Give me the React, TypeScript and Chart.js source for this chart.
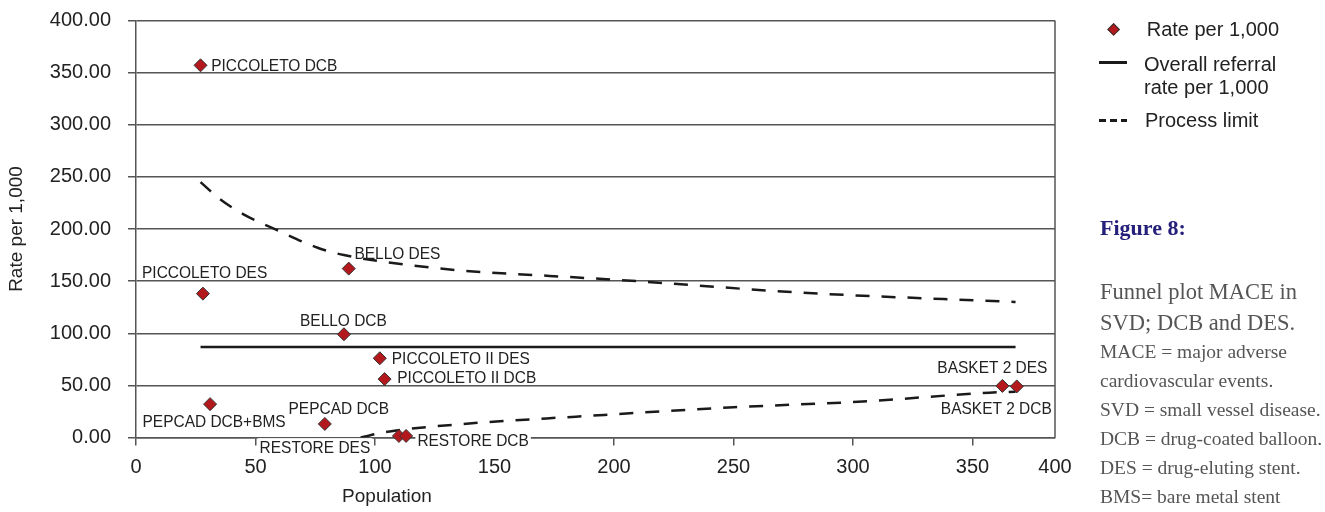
import React, { useEffect, useRef } from 'react';
import { Chart, registerables } from 'chart.js';

Chart.register(...registerables);

// ---------- data ----------
const studyNames = [
  'PICCOLETO DCB',
  'PICCOLETO DES',
  'BELLO DES',
  'BELLO DCB',
  'PICCOLETO II DES',
  'PICCOLETO II DCB',
  'PEPCAD DCB+BMS',
  'PEPCAD DCB',
  'RESTORE DES',
  'RESTORE DCB',
  'BASKET 2 DES',
  'BASKET 2 DCB',
];
const studyPopulation = [27, 28, 89, 87, 102, 104, 31, 79, 110, 113, 362.5, 368.5];
const studyRate = [357, 138, 162, 99, 76, 56, 32, 13, 1.5, 1.5, 49.5, 49];

const overallPopulation = [27, 368];
const overallRate = [86.7, 86.7];

const upperLimitPopulation = [27, 35, 45, 59, 76, 87, 116, 137, 173, 203, 278, 368];
const upperLimitRate = [245, 229, 214, 199, 182, 175, 165, 160, 155, 151, 139, 130];

const lowerLimitPopulation = [94, 104, 137, 184, 250, 304, 357, 368];
const lowerLimitRate = [0, 5, 13, 20, 29, 34.5, 43, 44];

const yTickValues = [0, 50, 100, 150, 200, 250, 300, 350, 400];
const xTickValues = [0, 50, 100, 150, 200, 250, 300, 350];
const xTickLabels = ['0', '50', '100', '150', '200', '250', '300', '350', '400'];

const legendLabels = ['Rate per 1,000', 'Overall referral', 'rate per 1,000', 'Process limit'];
const figureTitle = 'Figure 8:';
const captionMain = ['Funnel plot MACE in', 'SVD; DCB and DES.'];
const captionNotes = [
  'MACE = major adverse',
  'cardiovascular events.',
  'SVD = small vessel disease.',
  'DCB = drug-coated balloon.',
  'DES = drug-eluting stent.',
  'BMS= bare metal stent',
];

// ---------- styles / layout ----------
const X_MAX = 384.5; // visual right edge of the plot (labelled "400")
const AXIS_COLOR = '#555';
const TEXT_COLOR = '#222';
const MARKER_COLOR = '#b3191c';
const LINE_COLOR = '#1a1a1a';
const SANS = '"Liberation Sans", Arial, Helvetica, sans-serif';
const SERIF = '"Liberation Serif", "Times New Roman", serif';
const LABEL_FONT = 17;
const LABEL_SQUEEZE = 0.91;

// label placement relative to marker: [dx, dy, align, whiteBackground]
const labelPlacement: Array<[number, number, CanvasTextAlign, boolean]> = [
  [10.7, 0, 'left', false],
  [1.7, -21.7, 'center', false],
  [5.7, -16, 'left', false],
  [-0.5, -14, 'center', false],
  [12, 0, 'left', false],
  [12.7, -2.3, 'left', false],
  [4, 16.7, 'center', false],
  [14, -15.7, 'center', false],
  [-28.7, 10.7, 'right', true],
  [11.3, 4, 'left', true],
  [45, -18.7, 'right', false],
  [35, 21.6, 'right', false],
];

const labelPlugin = {
  id: 'studyLabels',
  afterDatasetsDraw(chart: any) {
    const meta = chart.getDatasetMeta(0);
    const ctx = chart.ctx as CanvasRenderingContext2D;
    ctx.save();
    ctx.font = `${LABEL_FONT}px ${SANS}`;
    meta.data.forEach((pt: any, i: number) => {
      const [dx, dy, align, bg] = labelPlacement[i];
      const text = studyNames[i];
      const x = pt.x + dx;
      const yc = pt.y + dy;
      const w = ctx.measureText(text).width * LABEL_SQUEEZE;
      const left = align === 'left' ? x : align === 'right' ? x - w : x - w / 2;
      if (bg) {
        ctx.fillStyle = '#ffffff';
        ctx.fillRect(left - 2, yc - 8.5, w + 4, 17);
      }
      ctx.save();
      ctx.translate(x, yc + 0.358 * LABEL_FONT);
      ctx.scale(LABEL_SQUEEZE, 1);
      ctx.fillStyle = TEXT_COLOR;
      ctx.textAlign = align;
      ctx.textBaseline = 'alphabetic';
      ctx.fillText(text, 0, 0);
      ctx.restore();
    });
    ctx.restore();
  },
};

const framePlugin = {
  id: 'frame',
  beforeDatasetsDraw(chart: any) {
    const ctx = chart.ctx as CanvasRenderingContext2D;
    const { left, right, top, bottom } = chart.chartArea;
    ctx.save();
    ctx.strokeStyle = AXIS_COLOR;
    ctx.lineWidth = 1.5;
    ctx.beginPath();
    ctx.moveTo(right, top);
    ctx.lineTo(right, bottom);
    ctx.stroke();
    ctx.font = `19px ${SANS}`;
    ctx.fillStyle = TEXT_COLOR;
    ctx.textAlign = 'center';
    ctx.textBaseline = 'alphabetic';
    ctx.fillText('Population', left + 251, chart.height - 17 + 0.358 * 19);
    ctx.restore();
  },
};

function SansText({ x, cy, size, children, color = TEXT_COLOR, bold = false }: any) {
  return (
    <div
      style={{
        position: 'absolute',
        left: x,
        top: cy - 0.5635 * size,
        fontFamily: SANS,
        fontSize: size,
        lineHeight: `${1.15 * size}px`,
        color,
        fontWeight: bold ? 'bold' : 'normal',
        whiteSpace: 'nowrap',
      }}
    >
      {children}
    </div>
  );
}

function SerifText({ x, cy, size, children, color = '#555', bold = false }: any) {
  return (
    <div
      style={{
        position: 'absolute',
        left: x,
        top: cy - 0.5815 * size,
        fontFamily: SERIF,
        fontSize: size,
        lineHeight: `${1.15 * size}px`,
        color,
        fontWeight: bold ? 'bold' : 'normal',
        whiteSpace: 'nowrap',
      }}
    >
      {children}
    </div>
  );
}

export default function App() {
  const canvasRef = useRef<HTMLCanvasElement | null>(null);

  useEffect(() => {
    if (!canvasRef.current) return;
    const chart = new Chart(canvasRef.current, {
      type: 'scatter',
      data: {
        datasets: [
          {
            label: 'Rate per 1,000',
            data: studyPopulation.map((x, i) => ({ x, y: studyRate[i] })),
            pointStyle: 'rectRot',
            pointRadius: 6.5,
            pointBackgroundColor: MARKER_COLOR,
            pointBorderColor: '#333',
            pointBorderWidth: 1,
            showLine: false,
            clip: false,
          } as any,
          {
            label: 'Overall referral rate per 1,000',
            data: overallPopulation.map((x, i) => ({ x, y: overallRate[i] })),
            showLine: true,
            pointRadius: 0,
            borderColor: LINE_COLOR,
            borderWidth: 2.5,
          } as any,
          {
            label: 'Process limit (upper)',
            data: upperLimitPopulation.map((x, i) => ({ x, y: upperLimitRate[i] })),
            showLine: true,
            pointRadius: 0,
            borderColor: LINE_COLOR,
            borderWidth: 2.5,
            borderDash: [14, 12],
            cubicInterpolationMode: 'monotone',
          } as any,
          {
            label: 'Process limit (lower)',
            data: lowerLimitPopulation.map((x, i) => ({ x, y: lowerLimitRate[i] })),
            showLine: true,
            pointRadius: 0,
            borderColor: LINE_COLOR,
            borderWidth: 2.5,
            borderDash: [14, 12],
            cubicInterpolationMode: 'monotone',
          } as any,
        ],
      },
      options: {
        responsive: false,
        animation: false,
        events: [],
        layout: { padding: { left: 0, right: 270, top: 20.5, bottom: 0 } },
        font: { family: SANS } as any,
        plugins: {
          legend: { display: false },
          tooltip: { enabled: false },
        },
        scales: {
          x: {
            type: 'linear',
            min: 0,
            max: X_MAX,
            afterBuildTicks: (s: any) => {
              s.ticks = [...xTickValues, X_MAX].map((v) => ({ value: v }));
            },
            afterFit: (s: any) => {
              s.height = 74.5;
              s.paddingLeft = 0;
              s.paddingRight = 0;
            },
            ticks: {
              callback: (_v: any, i: number) => xTickLabels[i],
              font: { size: 20, family: SANS },
              color: TEXT_COLOR,
              padding: 10,
              maxRotation: 0,
              autoSkip: false,
            },
            grid: {
              drawOnChartArea: false,
              drawTicks: true,
              tickLength: 8,
              lineWidth: 1.5,
              color: (c: any) => (c.tick && c.tick.value === X_MAX ? 'rgba(0,0,0,0)' : AXIS_COLOR),
            },
            border: { display: true, color: AXIS_COLOR, width: 1.5 },
          },
          y: {
            type: 'linear',
            min: 0,
            max: 400,
            afterBuildTicks: (s: any) => {
              s.ticks = yTickValues.map((v) => ({ value: v }));
            },
            afterFit: (s: any) => {
              s.width = 136;
              s.paddingTop = 0;
              s.paddingBottom = 0;
            },
            ticks: {
              callback: (v: any) => Number(v).toFixed(2),
              font: { size: 20, family: SANS },
              color: TEXT_COLOR,
              padding: 17,
            },
            grid: {
              color: AXIS_COLOR,
              lineWidth: 1.5,
              tickLength: 8,
            },
            border: { display: true, color: AXIS_COLOR, width: 1.5 },
            title: {
              display: true,
              text: 'Rate per 1,000',
              font: { size: 19, family: SANS },
              color: TEXT_COLOR,
              padding: { top: 5, bottom: 0 },
            },
          },
        },
      } as any,
      plugins: [framePlugin, labelPlugin],
    });
    return () => chart.destroy();
  }, []);

  return (
    <div style={{ position: 'absolute', left: 0, top: 0, width: 1325, height: 512, background: '#fff', overflow: 'hidden' }}>
      <canvas ref={canvasRef} width={1325} height={512} style={{ display: 'block', position: 'absolute', left: 0, top: 0 }} />
      {/* legend */}
      <div
        style={{
          position: 'absolute',
          left: 1108.7,
          top: 24.7,
          width: 9.2,
          height: 9.2,
          boxSizing: 'border-box',
          background: MARKER_COLOR,
          border: '1px solid #333',
          transform: 'rotate(45deg)',
        }}
      />
      <SansText x={1146.7} cy={29.5} size={20}>{legendLabels[0]}</SansText>
      <div style={{ position: 'absolute', left: 1099.3, top: 61, width: 28, height: 2.5, background: LINE_COLOR }} />
      <SansText x={1144} cy={64.2} size={20}>{legendLabels[1]}</SansText>
      <SansText x={1144} cy={87.5} size={20}>{legendLabels[2]}</SansText>
      {[0, 1, 2].map((k) => (
        <div
          key={k}
          style={{ position: 'absolute', left: 1099.3 + k * 10.7, top: 119, width: 6.7, height: 2.5, background: LINE_COLOR }}
        />
      ))}
      <SansText x={1145} cy={120} size={20}>{legendLabels[3]}</SansText>
      {/* caption */}
      <SerifText x={1100} cy={228} size={22} color="#231f7a" bold>
        {figureTitle}
      </SerifText>
      {captionMain.map((t, i) => (
        <SerifText key={t} x={1100} cy={291.7 + i * 31.5} size={22.5}>
          {t}
        </SerifText>
      ))}
      {captionNotes.map((t, i) => (
        <SerifText key={t} x={1100} cy={352.5 + i * 28.9} size={19.5}>
          {t}
        </SerifText>
      ))}
    </div>
  );
}
